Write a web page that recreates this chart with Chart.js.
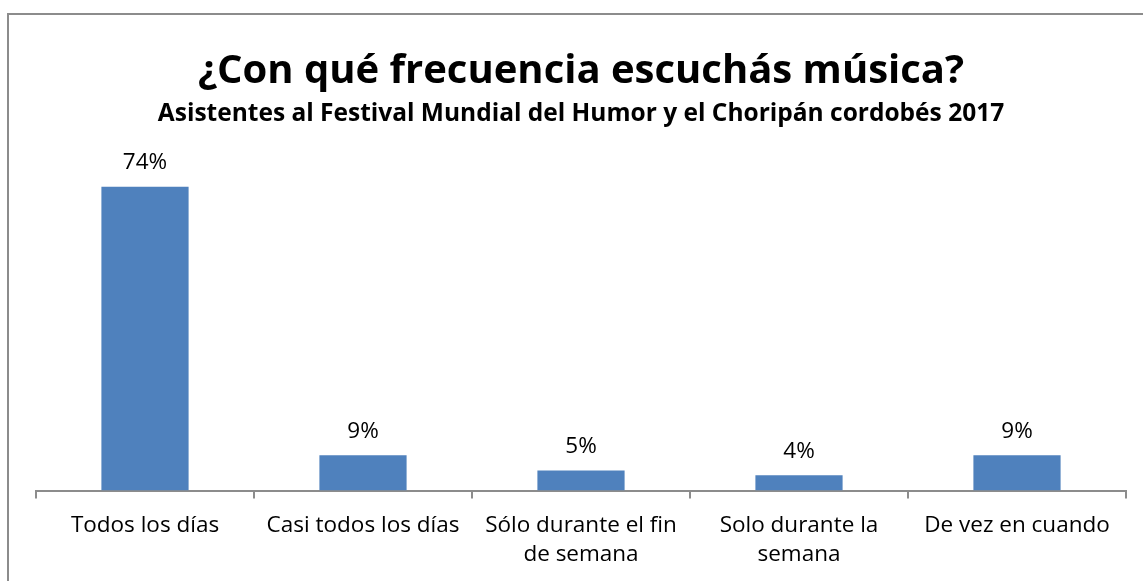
<!DOCTYPE html>
<html>
<head>
<meta charset="utf-8">
<script src="https://cdn.jsdelivr.net/npm/chart.js@4"></script>
<style>
    html, body { margin: 0; padding: 0; background: #fff; overflow: hidden; }
    #frame {
        position: absolute; left: 7px; top: 13px;
        width: 1160px; height: 600px;
        border: 2px solid #8c8c8c; box-sizing: border-box;
    }
    #wrap { position: absolute; left: 0; top: 0; width: 1143px; height: 581px; }
</style>
</head>
<body>
<div id="frame"></div>
<div id="wrap"><canvas id="freqChart"></canvas></div>
<script>
// Survey data
const categories = [
    'Todos los días',
    'Casi todos los días',
    ['Sólo durante el fin', 'de semana'],
    ['Solo durante la', 'semana'],
    'De vez en cuando'
];
const shares = [74.1, 8.6, 4.9, 3.7, 8.6];
const shareLabels = ['74%', '9%', '5%', '4%', '9%'];

const FONT = '"Open Sans", sans-serif';

// draws the value text above every bar
const barValueLabels = {
    id: 'barValueLabels',
    afterDatasetsDraw(chart) {
        const ctx = chart.ctx;
        const meta = chart.getDatasetMeta(0);
        ctx.save();
        ctx.font = '22.5px ' + FONT;
        ctx.fillStyle = '#000';
        ctx.textAlign = 'center';
        ctx.textBaseline = 'middle';
        meta.data.forEach((bar, i) => {
            ctx.fillText(shareLabels[i], bar.x, bar.y - 24);
        });
        ctx.restore();
    }
};

new Chart(document.getElementById('freqChart'), {
    type: 'bar',
    data: {
        labels: categories,
        datasets: [{
            data: shares,
            backgroundColor: '#4F81BD',
            borderWidth: 0,
            barPercentage: 0.4,
            categoryPercentage: 1
        }]
    },
    options: {
        responsive: true,
        maintainAspectRatio: false,
        animation: false,
        layout: { padding: { left: 36, right: 17, top: 48, bottom: 0 } },
        plugins: {
            legend: { display: false },
            tooltip: { enabled: false },
            title: {
                display: true,
                text: '¿Con qué frecuencia escuchás música?',
                color: '#000',
                font: { family: FONT, size: 40, weight: 'bold' },
                padding: { top: 0, bottom: 0 }
            },
            subtitle: {
                display: true,
                text: 'Asistentes al Festival Mundial del Humor y el Choripán cordobés 2017',
                color: '#000',
                font: { family: FONT, size: 24.5, weight: 'bold' },
                padding: { top: 3, bottom: 31 }
            }
        },
        scales: {
            x: {
                grid: {
                    offset: true,
                    drawOnChartArea: false,
                    drawTicks: true,
                    tickLength: 8,
                    color: '#8c8c8c',
                    lineWidth: 2
                },
                border: { display: true, color: '#8c8c8c', width: 2 },
                ticks: {
                    color: '#000',
                    font: { family: FONT, size: 22.5, lineHeight: 1.3 },
                    padding: 12,
                    autoSkip: false,
                    maxRotation: 0
                }
            },
            y: {
                display: false,
                min: 0,
                max: 80.8
            }
        }
    },
    plugins: [barValueLabels]
});
</script>
</body>
</html>
